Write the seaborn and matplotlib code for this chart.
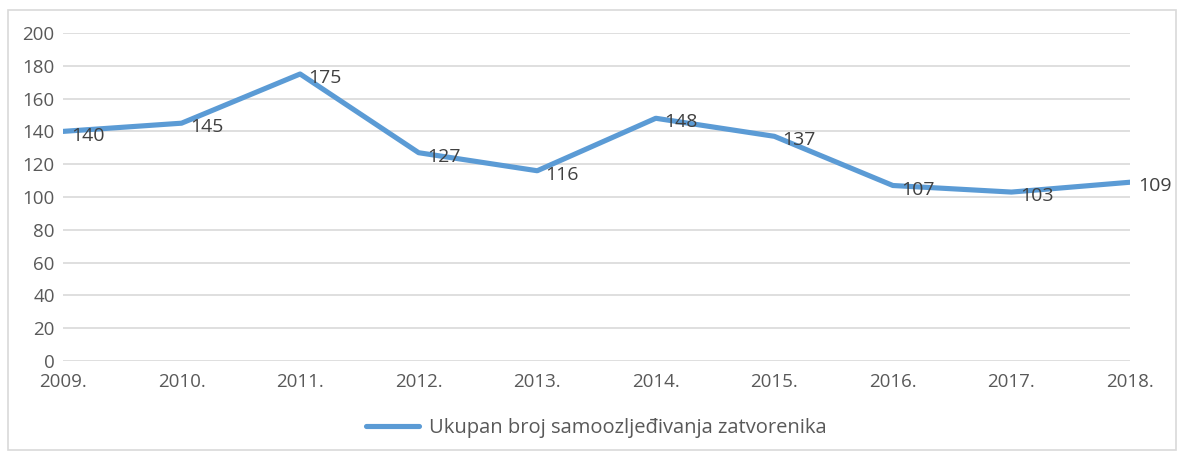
import matplotlib
matplotlib.use("Agg")
import matplotlib.pyplot as plt
import pandas as pd
import seaborn as sns
from matplotlib.patches import Rectangle

years = ["2009.", "2010.", "2011.", "2012.", "2013.", "2014.", "2015.", "2016.", "2017.", "2018."]
values = [140, 145, 175, 127, 116, 148, 137, 107, 103, 109]
series_name = "Ukupan broj samoozljeđivanja zatvorenika"

sns.set_style("white")
plt.rcParams['font.family'] = ['Open Sans', 'DejaVu Sans']

df = pd.DataFrame({"godina": years, "broj": values})

fig = plt.figure(figsize=(11.84, 4.57), dpi=100)
ax = fig.add_axes([0.0532, 0.2101, 0.9012, 0.7177])

sns.lineplot(data=df, x="godina", y="broj", color="#5B9BD5", linewidth=3.7,
             label=series_name, ax=ax, sort=False)

ax.set_ylim(0, 200)
ax.set_xlim(0, len(years) - 1)
ax.set_yticks(range(0, 201, 20))
ax.grid(axis='y', color='#D9D9D9', linewidth=1.2)
ax.set_axisbelow(True)
for s in ax.spines.values():
    s.set_visible(False)
ax.tick_params(axis='both', length=0, labelsize=13.5, colors='#595959')
ax.tick_params(axis='y', pad=6)
ax.tick_params(axis='x', pad=9)
ax.set_xlabel("")
ax.set_ylabel("")

for i, v in enumerate(values):
    ax.annotate(str(v), (i, v), xytext=(6, -3), textcoords='offset points',
                ha='left', va='center', fontsize=14, color='#404040')

leg = ax.legend(loc='upper center', bbox_to_anchor=(0.5, -0.12), frameon=False,
                fontsize=14.5, handlelength=2.6, handletextpad=0.5)
for t in leg.get_texts():
    t.set_color('#595959')

fig.patches.append(Rectangle((8 / 1184, 7 / 457), 1168 / 1184, 440 / 457,
                             transform=fig.transFigure, fill=False,
                             edgecolor='#D9D9D9', linewidth=1.2))

fig.savefig("out.png", dpi=100)
